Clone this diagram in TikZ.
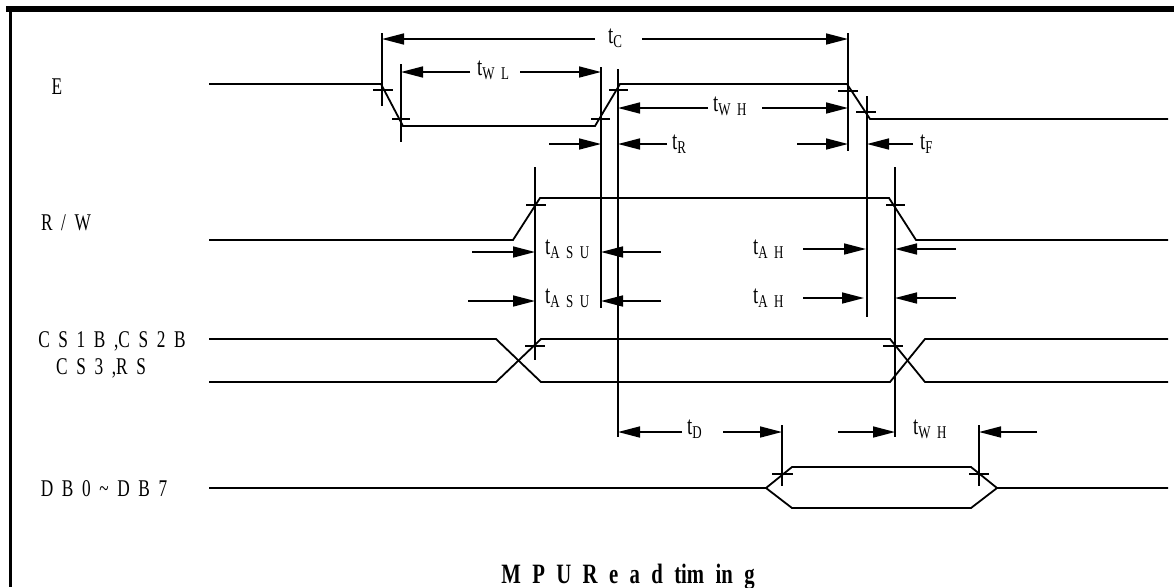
\documentclass[tikz,border=0pt]{standalone}
\usepackage{fontspec}
\usetikzlibrary{arrows.meta}
\newfontfamily\lbl[FakeStretch=0.72,WordSpace=2]{Liberation Serif}
\newfontfamily\ttlfont[FakeStretch=0.74,WordSpace=2.2]{Liberation Serif}
\newcommand\tlab[1]{\fontsize{26}{26}\selectfont t\raisebox{-4pt}{\fontsize{18}{18}\selectfont #1}}
\begin{document}
\begin{tikzpicture}[x=1pt,y=-1pt,
  sig/.style={line width=1.8pt},
  vl/.style={line width=1.6pt},
  tk/.style={line width=1.6pt},
  ar/.style={line width=1.6pt,-{Triangle[length=22pt,width=11pt]}},
  lab/.style={inner sep=0pt,anchor=base west,font=\lbl\fontsize{24}{24}\selectfont},
  sname/.style={inner sep=0pt,anchor=base,font=\lbl\fontsize{24}{24}\selectfont},
  ttl/.style={inner sep=0pt,anchor=base,font=\ttlfont\bfseries\fontsize{28}{28}\selectfont}]
\useasboundingbox (0,0) rectangle (1174,587);
% frame
\draw[line width=6pt] (6,9) -- (1174,9);
\draw[line width=3.5pt] (10.5,6) -- (10.5,587);
% signal names
\node[sname] (nE) at (57,94) {E};
\node[sname] (nRW) at (66,230) {R / W};
\node[sname] (nCS1) at (112,347) {C S 1 B ,C S 2 B};
\node[sname] (nCS2) at (101,374) {C S 3 ,R S};
\node[sname] (nDB) at (104,496) {D B 0 \textasciitilde{} D B 7};
% E
\draw[sig] (209,84) -- (381,84) -- (403,126) -- (595,126) -- (620,84) -- (847,84) -- (870,119) -- (1168,119);
% R/W
\draw[sig] (209,240) -- (513,240) -- (540,198) -- (889,198) -- (916,240) -- (1168,240);
% CS
\draw[sig] (209,339) -- (496,339) -- (541,382) -- (890,382) -- (925,339) -- (1168,339);
\draw[sig] (209,382) -- (496,382) -- (541,339) -- (890,339) -- (925,382) -- (1168,382);
% DB
\draw[sig] (209,488) -- (766,488) -- (792,467) -- (971,467) -- (997,488) -- (1168,488);
\draw[sig] (766,488) -- (792,508) -- (971,508) -- (997,488);
% vertical reference lines
\draw[vl] (382,33) -- (382,106);
\draw[vl] (401,64) -- (401,142);
\draw[vl] (601,67) -- (601,308);
\draw[vl] (618,69) -- (618,437);
\draw[vl] (848,33) -- (848,151);
\draw[vl] (867,96) -- (867,317);
\draw[vl] (535,167) -- (535,360);
\draw[vl] (895,167) -- (895,437);
\draw[vl] (782,425) -- (782,486);
\draw[vl] (979,425) -- (979,486);
% ticks
\draw[tk] (373,90) -- (393,90);
\draw[tk] (392,119) -- (410,119);
\draw[tk] (591,119) -- (610,119);
\draw[tk] (609,90) -- (628,90);
\draw[tk] (838,91) -- (858,91);
\draw[tk] (856,112) -- (876,112);
\draw[tk] (526,205) -- (546,205);
\draw[tk] (886,205) -- (905,205);
\draw[tk] (525,346) -- (545,346);
\draw[tk] (883,346) -- (903,346);
\draw[tk] (772,474) -- (793,474);
\draw[tk] (969,474) -- (989,474);
% tC
\draw[ar] (595,39) -- (382,39);
\draw[ar] (642,39) -- (848,39);
\node[lab] (tC) at (608,43) {\tlab{C}};
% tWL
\draw[ar] (470,72) -- (401,72);
\draw[ar] (520,72) -- (601,72);
\node[lab] (tWL) at (477,75) {\tlab{W L}};
% tWH
\draw[ar] (708,108) -- (618,108);
\draw[ar] (762,108) -- (848,108);
\node[lab] (tWH) at (713,111) {\tlab{W H}};
% tR
\draw[ar] (549,144) -- (601,144);
\draw[ar] (667,144) -- (618,144);
\node[lab] (tR) at (672,149) {\tlab{R}};
% tF
\draw[ar] (797,144) -- (848,144);
\draw[ar] (913,144) -- (867,144);
\node[lab] (tF) at (920,149) {\tlab{F}};
% tASU
\draw[ar] (472,252) -- (535,252);
\draw[ar] (661,252) -- (601,252);
\node[lab] (tASU1) at (545,254) {\tlab{A S U}};
\draw[ar] (468,301) -- (535,301);
\draw[ar] (661,301) -- (601,301);
\node[lab] (tASU2) at (545,303) {\tlab{A S U}};
% tAH
\draw[ar] (803,249) -- (866,249);
\draw[ar] (956,249) -- (895,249);
\node[lab] (tAH1) at (753,254) {\tlab{A H}};
\draw[ar] (803,298) -- (864,298);
\draw[ar] (956,298) -- (895,298);
\node[lab] (tAH2) at (753,303) {\tlab{A H}};
% tD
\draw[ar] (682,432) -- (618,432);
\draw[ar] (723,432) -- (782,432);
\node[lab] (tD) at (687,434) {\tlab{D}};
% tWH (DB)
\draw[ar] (838,432) -- (895,432);
\draw[ar] (1037,432) -- (979,432);
\node[lab] (tWH2) at (913,434) {\tlab{W H}};
% title
\node[ttl] (title) at (628,583) {M P U R e a d tim in g};
\end{tikzpicture}
\end{document}
